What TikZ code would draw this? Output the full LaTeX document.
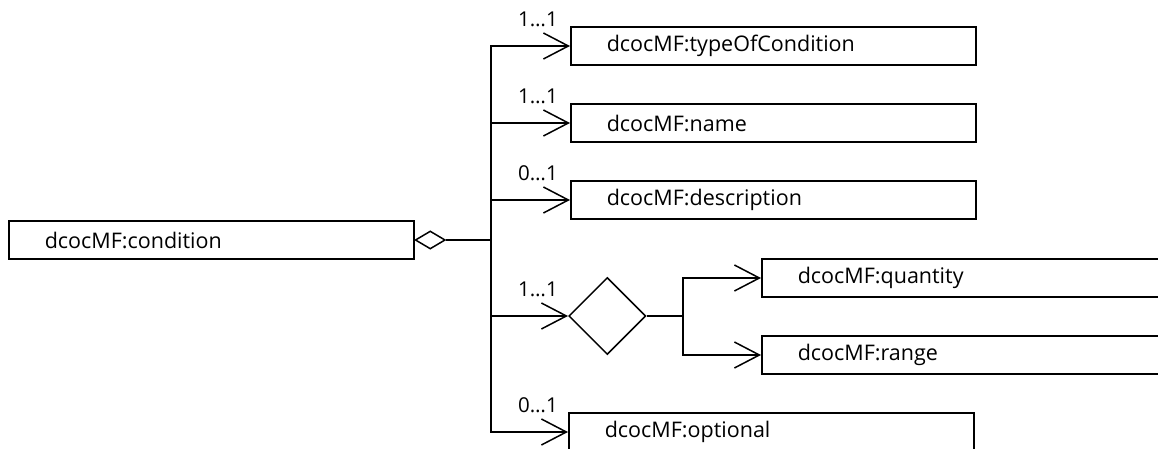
\documentclass[tikz,border=0pt]{standalone}
\usepackage{fontspec}
\setmainfont{Open Sans}
\usetikzlibrary{arrows.meta,shapes.geometric}
\begin{document}
\begin{tikzpicture}[x=1pt,y=-1pt,
  line width=1.5pt,
  box/.style={draw,rectangle,anchor=west,minimum width=405pt,minimum height=38pt,
    inner xsep=36pt,inner ysep=0pt,text width=333pt,align=left,font=\fontsize{21.5}{24}\selectfont},
  mult/.style={font=\fontsize{20.5}{24}\selectfont,inner sep=0pt},
  arr/.style={-{Straight Barb[length=25pt,width=26pt,line width=1.5pt]}},
]
\useasboundingbox (0,0) rectangle (1158,449);
\clip (0,0) rectangle (1158,449);
\node[box] (cond) at (8,240) {dcocMF:condition};
\node[diamond,draw,minimum width=30pt,minimum height=18pt,inner sep=0pt,anchor=west] (sd) at (cond.east) {};
\coordinate (t) at (491,240);
\node[box] (type) at (570,46) {dcocMF:typeOfCondition};
\node[box] (name) at (570,123) {dcocMF:name};
\node[box] (desc) at (570,200) {dcocMF:description};
\node[diamond,draw,minimum width=77pt,minimum height=77pt,inner sep=0pt,anchor=west] (bd) at (568,316) {};
\coordinate (j) at (683,316);
\node[box] (qty) at (761,278) {dcocMF:quantity};
\node[box] (rng) at (761,355) {dcocMF:range};
\node[box] (opt) at (568,432) {dcocMF:optional};
\draw (sd.east) -- (t);
\draw[arr] (t) |- (type.west);
\draw[arr] (t) |- (name.west);
\draw[arr] (t) |- (desc.west);
\draw[arr] (t) |- (bd.west);
\draw[arr] (t) |- (opt.west);
\draw (bd.east) -- (j);
\draw[arr] (j) |- (qty.west);
\draw[arr] (j) |- (rng.west);
\node[mult] (m1) at (538,19) {1…1};
\node[mult] (m2) at (538,96) {1…1};
\node[mult] (m3) at (538,173) {0…1};
\node[mult] (m4) at (538,289) {1…1};
\node[mult] (m5) at (538,405) {0…1};
\end{tikzpicture}
\end{document}
